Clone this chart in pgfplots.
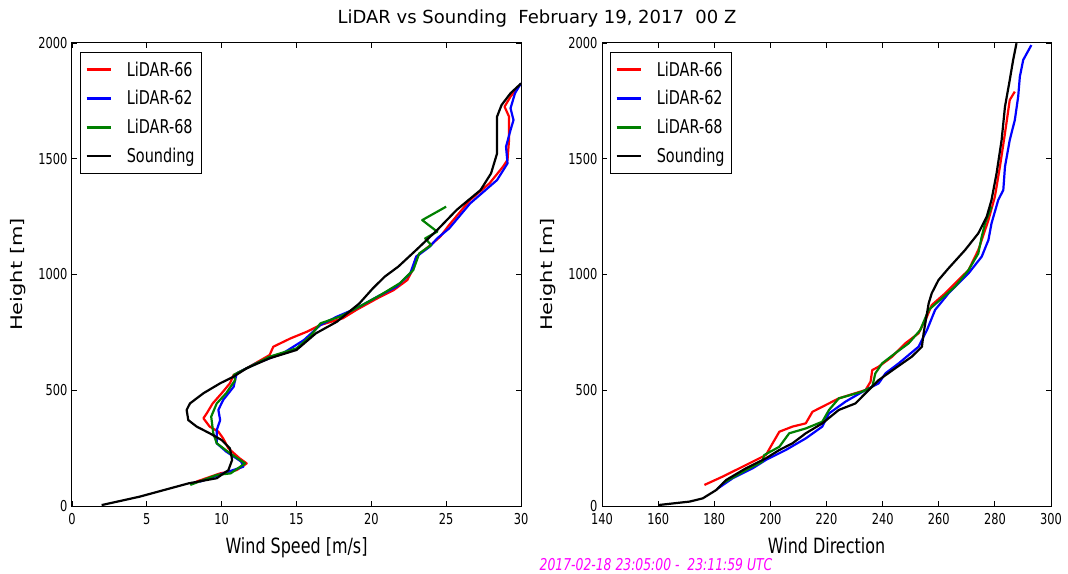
\documentclass[border=0pt]{standalone}
\usepackage{pgfplots}
\pgfplotsset{compat=1.18}
\usepackage{fontspec}
\setmainfont{DejaVu Sans}[FakeStretch=0.76]
\newfontfamily\dvs{DejaVu Sans}
\definecolor{mpred}{rgb}{1,0,0}
\definecolor{mpblue}{rgb}{0,0,1}
\definecolor{mpgreen}{rgb}{0,0.5,0}
\definecolor{mpmag}{rgb}{1,0,1}
\pgfplotsset{
  panel/.style={
    scale only axis, width=449pt, height=463pt,
    ymin=0, ymax=2000, ytick={0,500,1000,1500,2000},
    tick align=inside, major tick length=5pt,
    /pgf/number format/assume math mode=true,
    /pgf/number format/1000 sep={},
    tick label style={font=\fontsize{15}{16}\selectfont},
    axis line style={line width=1pt},
    every tick/.style={black, line width=0.8pt},
    xticklabel style={yshift=-4pt},
    yticklabel style={xshift=-1pt},
    every axis x label/.style={at={(axis description cs:0.5,0)}, anchor=base, yshift=-47pt, font=\fontsize{21}{24}\selectfont},
    every axis y label/.style={at={(axis description cs:0,0.5)}, anchor=center, xshift=-54pt, rotate=90, yscale=0.76, font=\dvs\fontsize{21}{24}\selectfont},
    ylabel={Height [m]},
    legend style={at={(0,1)}, anchor=north west, xshift=8pt, yshift=-9pt, draw=black, line width=1.2pt,
      font=\fontsize{19}{21}\selectfont, inner xsep=5pt, inner ysep=7pt, row sep=9pt, cells={anchor=west},
      /tikz/every odd column/.append style={column sep=13pt}},
    legend image code/.code={\draw[#1, line width=2.2pt] (0pt,0pt) -- (24pt,0pt);},
    every axis plot/.append style={line width=2.2pt, line join=round},
  }
}
\begin{document}
\begin{tikzpicture}[x=1pt,y=1pt]
\path[use as bounding box] (0,0) rectangle (1068,573);
\begin{axis}[panel, at={(72pt,67pt)}, anchor=south west,
  xmin=0, xmax=30, xtick={0,5,10,15,20,25,30}, xlabel={Wind Speed [m/s]}]
\addplot[mpred] coordinates {(8.3,105) (9.9,141) (11.0,155) (11.67,184) (11.2,206) (10.45,249) (10.1,292) (9.78,321) (9.2,343) (8.78,379) (9.0,400) (9.4,443) (10.0,487) (10.55,530) (10.8,566) (11.67,595) (13.2,652) (13.45,688) (14.6,724) (15.7,753) (16.6,782) (18.1,811) (19.0,847) (20.4,897) (21.5,933) (22.4,976) (22.7,1012) (23.0,1077) (24.1,1135) (24.6,1163) (25.2,1214) (26.6,1322) (27.9,1394) (28.8,1466) (29.1,1495) (29.2,1581) (29.2,1682) (28.9,1725) (29.3,1768) (29.8,1811)};
\addlegendentry{LiDAR-66}
\addplot[mpblue] coordinates {(8.55,105) (10.1,141) (11.45,170) (11.3,192) (10.3,235) (9.67,271) (9.67,328) (9.9,371) (9.78,415) (10.1,458) (10.8,515) (11.0,573) (12.3,616) (14.1,660) (15.5,717) (16.6,782) (17.7,818) (19.0,854) (20.4,904) (21.7,948) (22.6,1005) (23.0,1077) (23.9,1120) (24.4,1156) (25.2,1199) (26.6,1307) (28.4,1408) (29.1,1480) (29.0,1552) (29.3,1624) (29.5,1667) (29.3,1718) (29.6,1783) (30.0,1826)};
\addlegendentry{LiDAR-62}
\addplot[mpgreen] coordinates {(7.9,91) (9.67,134) (10.6,141) (11.56,184) (10.55,228) (9.67,271) (9.44,314) (9.3,386) (9.67,443) (10.3,487) (10.9,544) (10.8,566) (11.67,595) (13.2,645) (15.0,681) (15.9,732) (16.6,789) (17.9,818) (19.2,861) (20.6,911) (21.9,962) (22.8,1019) (23.2,1091) (24.0,1127) (23.6,1156) (24.4,1185) (23.4,1235) (25.0,1293)};
\addlegendentry{LiDAR-68}
\addplot[black] coordinates {(1.98,4) (4.5,40) (7.8,98) (9.67,120) (10.45,155) (10.7,199) (10.55,249) (10.0,285) (9.2,314) (8.33,343) (7.77,371) (7.66,415) (7.88,443) (8.78,487) (9.9,530) (10.8,559) (11.67,595) (13.2,638) (15.0,674) (16.3,746) (17.7,796) (19.2,875) (20.1,940) (20.9,991) (21.8,1034) (23.0,1106) (24.4,1192) (25.7,1279) (27.3,1365) (28.0,1437) (28.4,1523) (28.4,1610) (28.4,1682) (28.7,1732) (29.3,1783) (29.9,1819) (30.0,1825)};
\addlegendentry{Sounding}
\end{axis}
\begin{axis}[panel, at={(602pt,67pt)}, anchor=south west,
  xmin=140, xmax=300, xtick={140,160,180,200,220,240,260,280,300}, xlabel={Wind Direction}]
\addplot[mpred] coordinates {(176.5,91) (183.0,127) (191.3,177) (198.4,220) (200.8,271) (203.2,321) (207.9,343) (212.6,357) (215.0,407) (219.7,436) (224.4,465) (233.9,501) (235.7,537) (236.3,587) (238.6,602) (243.4,645) (248.1,703) (252.8,746) (255.8,818) (257.5,868) (262.3,919) (267.0,976) (270.6,1019) (274.1,1106) (277.7,1235) (280.0,1336) (281.8,1466) (283.6,1610) (285.3,1754) (287.1,1790)};
\addlegendentry{LiDAR-66}
\addplot[mpblue] coordinates {(181.3,76) (186.6,120) (193.7,163) (198.4,199) (205.5,242) (212.6,292) (218.5,343) (220.9,400) (226.8,451) (233.9,501) (238.6,530) (241.0,573) (245.7,616) (252.8,688) (255.8,760) (258.7,847) (263.5,919) (270.6,1005) (275.3,1077) (277.7,1149) (278.8,1221) (281.2,1322) (283.0,1365) (283.6,1466) (285.3,1581) (287.1,1667) (288.3,1768) (288.9,1855) (290.1,1927) (293.0,1991)};
\addlegendentry{LiDAR-62}
\addplot[mpgreen] coordinates {(183.0,98) (191.3,155) (197.2,192) (197.8,220) (203.2,256) (206.7,314) (212.6,335) (218.5,364) (220.9,415) (224.4,465) (232.7,494) (236.3,515) (237.4,573) (239.8,616) (244.5,660) (249.3,703) (253.4,760) (256.4,847) (261.1,897) (265.8,948) (270.6,1019) (274.1,1091) (275.3,1163) (276.5,1221) (278.8,1293)};
\addlegendentry{LiDAR-68}
\addplot[black] coordinates {(160.0,4) (171.2,19) (175.9,33) (180.7,69) (184.2,112) (191.3,163) (198.4,206) (203.2,242) (207.9,271) (212.6,314) (218.5,357) (224.4,415) (230.3,443) (233.9,487) (238.6,544) (244.5,595) (250.4,645) (254.0,688) (254.6,746) (256.4,875) (257.5,919) (259.9,976) (263.5,1027) (269.4,1106) (274.1,1178) (277.1,1250) (278.8,1322) (280.6,1437) (282.4,1581) (283.6,1725) (285.3,1840) (286.5,1926) (287.7,1999)};
\addlegendentry{Sounding}
\end{axis}
\node[font=\dvs\fontsize{18}{21}\selectfont, anchor=base] at (537,549) {LiDAR vs Sounding\ \ February 19, 2017\ \ 00 Z};
\node[font=\itshape\fontsize{16.3}{18}\selectfont, text=mpmag, anchor=base] at (656,3) {2017-02-18 23:05:00 -\ \ 23:11:59 UTC};
\end{tikzpicture}
\end{document}
